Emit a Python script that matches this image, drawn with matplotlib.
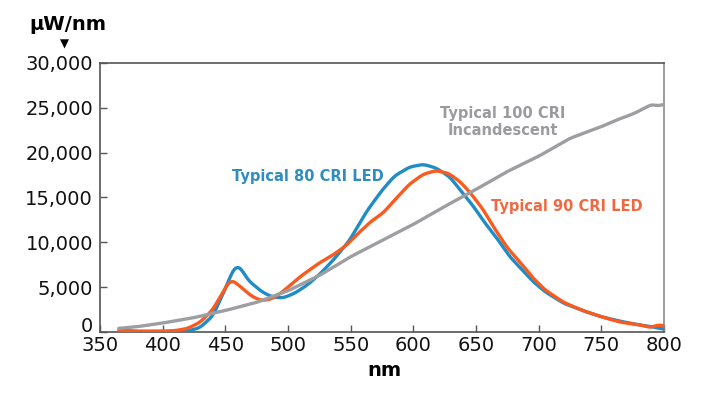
import matplotlib
matplotlib.use("Agg")
import matplotlib.pyplot as plt
import matplotlib.transforms as mtransforms
import numpy as np

# ---- data ----
incand_nm = [365, 380, 400, 425, 450, 475, 500, 525, 550, 575, 600, 625, 650, 675, 700, 725, 750, 765, 775, 785, 790, 795, 800]
incand_val = [400, 600, 1000, 1600, 2400, 3300, 4600, 6300, 8400, 10200, 12000, 14000, 15900, 17900, 19600, 21600, 22900, 23800, 24300, 25000, 25400, 25200, 25400]

led80_nm = [365, 400, 420, 430, 440, 450, 455, 459, 463, 468, 473, 480, 488, 496, 505, 515, 525, 536, 549, 563, 575, 585, 597, 608, 618, 629, 640, 648, 658, 667, 677, 685, 695, 705, 720, 735, 750, 765, 780, 790, 800]
led80_val = [0, 0, 100, 500, 1800, 4800, 6600, 7400, 7000, 5800, 5200, 4400, 3900, 3800, 4300, 5200, 6400, 8000, 10200, 13500, 15800, 17400, 18400, 18700, 18300, 17300, 15400, 14000, 12000, 10400, 8400, 7200, 5700, 4500, 3200, 2400, 1700, 1200, 800, 600, 300]

led90_nm = [365, 380, 400, 410, 420, 430, 440, 447, 452, 455, 460, 465, 470, 475, 480, 487, 493, 500, 510, 525, 536, 546, 556, 566, 576, 587, 597, 608, 618, 628, 637, 645, 655, 665, 675, 685, 695, 705, 720, 735, 750, 765, 780, 790, 795, 800]
led90_val = [200, 100, 100, 150, 400, 1100, 2500, 4200, 5400, 5800, 5300, 4700, 4100, 3700, 3500, 3700, 4200, 5000, 6200, 7700, 8600, 9600, 11000, 12300, 13300, 15000, 16500, 17600, 18000, 17700, 16800, 15600, 13800, 11500, 9400, 7800, 6100, 4700, 3300, 2400, 1700, 1100, 800, 500, 800, 700]

x_ticks = [350, 400, 450, 500, 550, 600, 650, 700, 750, 800]
y_ticks = [0, 5000, 10000, 15000, 20000, 25000, 30000]
y_tick_labels = ["0", "5,000", "10,000", "15,000", "20,000", "25,000", "30,000"]

BLUE = "#1f8cc8"
ORANGE = "#fb5a1e"
GRAY = "#9d9ea2"

W, H = 720, 398
fig = plt.figure(figsize=(7.2, 3.98), dpi=100)
ax = fig.add_axes([100/W, 1 - 332/H, 564/W, 269/H])

def smooth(xs, ys):
    xs = np.asarray(xs, float); ys = np.asarray(ys, float)
    xx = np.linspace(xs[0], xs[-1], 600)
    yy = np.interp(xx, xs, ys)
    k = np.ones(9) / 9
    yp = np.pad(yy, 4, mode="edge")
    return xx, np.convolve(yp, k, mode="valid")

for xs, ys, c in [(incand_nm, incand_val, GRAY), (led80_nm, led80_val, BLUE), (led90_nm, led90_val, ORANGE)]:
    xx, yy = smooth(xs, ys)
    ax.plot(xx, yy, color=c, lw=2.4, solid_capstyle="round", zorder=3 if c != GRAY else 4)

ax.set_xlim(350, 800)
ax.set_ylim(0, 30000)
ax.set_xticks(x_ticks)
ax.set_yticks(y_ticks)
ax.set_yticklabels(y_tick_labels)
ax.tick_params(direction="in", length=5, width=1, color="#555555", labelsize=14, labelcolor="#111111")
ax.tick_params(axis="y", pad=5)
ax.tick_params(axis="x", pad=3)
for name, s in ax.spines.items():
    s.set_color("#555555" if name != "right" else "#8a8a8a")
    s.set_linewidth(1.2)

# raise the "0" label a little, as in the reference
lbl0 = ax.get_yticklabels()[0]
lbl0.set_transform(lbl0.get_transform() + mtransforms.ScaledTranslation(0, 7/100, fig.dpi_scale_trans))

def ftext(px, py, s, **kw):
    fig.text(px / W, 1 - py / H, s, **kw)

ftext(384, 371, "nm", fontsize=14, fontweight="bold", ha="center", va="center")
ftext(68, 25, "µW/nm", fontsize=14, fontweight="bold", ha="center", va="center")
ftext(64, 44, "▼", fontsize=8.5, ha="center", va="center")

ftext(308, 176, "Typical 80 CRI LED", fontsize=10.5, fontweight="bold", color="#2f8dc0", ha="center", va="center")
ftext(503, 122, "Typical 100 CRI\nIncandescent", fontsize=10.5, fontweight="bold", color="#9a9ba0", ha="center", va="center", linespacing=1.15)
ftext(567, 207, "Typical 90 CRI LED", fontsize=10.5, fontweight="bold", color="#ef6a42", ha="center", va="center")

fig.savefig("out.png", dpi=100)
